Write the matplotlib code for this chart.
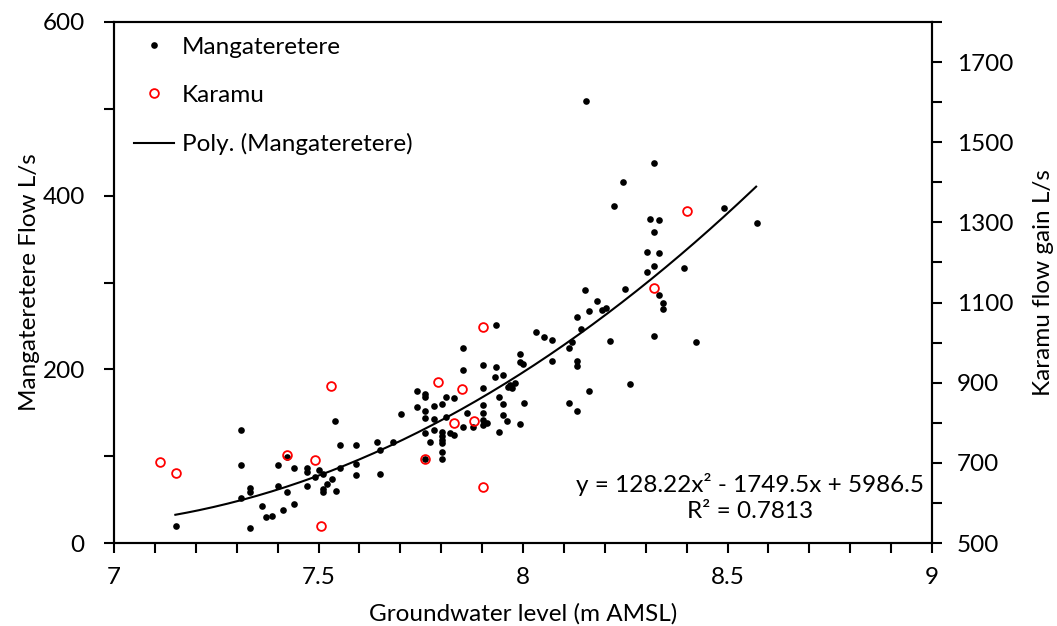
import numpy as np
import matplotlib
matplotlib.use("Agg")
import matplotlib.pyplot as plt
from matplotlib.ticker import MultipleLocator, FixedLocator

# ---------------- data ----------------
mang_x = [8.321, 8.245, 8.222, 8.311, 8.332, 8.321, 8.491, 8.572, 8.302, 8.332,
          8.321, 8.302, 8.394, 8.249, 8.332, 8.342, 8.342, 8.202, 8.192, 8.213,
          8.321, 8.422, 8.155, 8.152, 8.181, 8.161, 8.132, 8.142, 8.031, 8.051,
          8.072, 8.121, 8.112, 8.132, 8.132, 8.072, 7.993, 8.001, 7.993, 8.262,
          8.161, 8.002, 8.112, 8.132, 7.993, 7.933, 7.853, 7.901, 7.933, 7.853,
          7.951, 7.932, 7.901, 7.968, 7.980, 7.972, 7.964, 7.812, 7.832, 7.801,
          7.941, 7.950, 7.901, 7.862, 7.901, 7.950, 7.812, 7.901, 7.901, 7.911,
          7.962, 7.853, 7.878, 7.941, 7.822, 7.832, 7.741, 7.761, 7.761, 7.782,
          7.741, 7.761, 7.702, 7.541, 7.761, 7.782, 7.761, 7.782, 7.801, 7.801,
          7.801, 7.801, 7.801, 7.801, 7.772, 7.643, 7.681, 7.552, 7.591, 7.650,
          7.761, 7.591, 7.552, 7.471, 7.471, 7.502, 7.491, 7.512, 7.471, 7.532,
          7.522, 7.512, 7.512, 7.542, 7.591, 7.650, 7.311, 7.311, 7.423, 7.402,
          7.441, 7.332, 7.332, 7.311, 7.402, 7.422, 7.361, 7.441, 7.412, 7.371,
          7.387, 7.151, 7.332]
mang_flow = [438.0, 416.1, 388.1, 373.2, 372.0, 358.5, 385.8, 368.5, 335.5, 334.3,
             319.4, 312.1, 317.1, 292.5, 285.3, 276.1, 269.8, 270.3, 268.3, 233.0,
             238.7, 231.8, 508.7, 291.4, 278.4, 267.2, 259.9, 246.5, 242.7, 236.9,
             234.1, 231.1, 224.6, 210.0, 203.9, 209.6, 217.3, 206.2, 208.1, 182.8,
             174.7, 161.2, 161.2, 152.4, 137.1, 251.4, 224.2, 205.0, 202.4, 198.9,
             193.8, 191.2, 178.2, 182.0, 183.9, 178.2, 180.0, 168.5, 167.3, 159.7,
             168.5, 159.7, 158.6, 149.4, 149.4, 147.4, 144.8, 141.7, 135.9, 137.9,
             140.9, 133.3, 133.9, 128.2, 126.3, 124.4, 174.7, 171.6, 167.8, 157.4,
             156.3, 151.7, 148.9, 140.5, 144.0, 142.8, 127.0, 130.5, 128.2, 123.6,
             119.0, 114.8, 104.8, 96.7, 116.0, 116.0, 116.0, 112.5, 113.2, 107.5,
             97.1, 91.0, 86.7, 86.7, 82.1, 84.1, 76.4, 79.5, 66.0, 73.4,
             67.6, 61.8, 58.7, 59.9, 78.3, 79.5, 130.5, 90.2, 99.4, 90.2,
             86.4, 63.7, 58.7, 51.8, 65.6, 58.4, 42.6, 44.9, 38.0, 30.3,
             31.4, 19.2, 17.3]

karamu_x = [7.112, 7.151, 7.423, 7.491, 7.505, 7.531, 7.761, 7.793, 7.852, 7.831,
            7.880, 7.901, 7.902, 8.321, 8.401]
karamu_gain = [702.8, 674.7, 719.6, 708.3, 542.4, 890.5, 710.3, 902.4, 883.5, 798.7,
               804.4, 1039.7, 639.7, 1137.0, 1329.1]

# polynomial trendline as printed on the chart
trend_coeffs = [128.22, -1749.5, 5986.5]
trend_x_range = [7.15, 8.57]
trend_label = "y = 128.22x\u00b2 - 1749.5x + 5986.5\nR\u00b2 = 0.7813"

x_tick_labels = [7, 7.5, 8, 8.5, 9]
left_tick_labels = [0, 200, 400, 600]
right_tick_labels = [500, 700, 900, 1100, 1300, 1500, 1700]

# ---------------- style ----------------
FONT = "Lato"
FS = 17.5
plt.rcParams["font.family"] = [FONT, "DejaVu Sans"]
plt.rcParams["font.size"] = FS

fig = plt.figure(figsize=(10.57, 6.26), dpi=100)
ax = fig.add_axes([114 / 1057, 1 - 543 / 626, 818 / 1057, 521 / 626])
ax2 = ax.twinx()

# trendline
tx = np.linspace(trend_x_range[0], trend_x_range[1], 200)
ty = np.polyval(trend_coeffs, tx)
ln_trend, = ax.plot(tx, ty, color="black", lw=1.5, zorder=2)

ln_m, = ax.plot(mang_x, mang_flow, linestyle="none", marker="o", ms=4.8,
                mfc="black", mec="black", mew=0, zorder=3)
ln_k, = ax2.plot(karamu_x, karamu_gain, linestyle="none", marker="o", ms=6.3,
                 mfc="none", mec="#ff0000", mew=1.3, zorder=3)

ax.set_xlim(7, 9)
ax.set_ylim(0, 600)
ax2.set_ylim(500, 1800)

ax.xaxis.set_major_locator(FixedLocator(x_tick_labels))
ax.xaxis.set_minor_locator(MultipleLocator(0.1))
ax.set_xticklabels([f"{v:g}" for v in x_tick_labels])
ax.yaxis.set_major_locator(FixedLocator(left_tick_labels))
ax.yaxis.set_minor_locator(MultipleLocator(100))
ax.set_yticklabels([str(v) for v in left_tick_labels])
ax2.yaxis.set_major_locator(FixedLocator(right_tick_labels))
ax2.yaxis.set_minor_locator(MultipleLocator(100))
ax2.set_yticklabels([str(v) for v in right_tick_labels])

for a in (ax, ax2):
    for s in a.spines.values():
        s.set_linewidth(1.5)
        s.set_color("black")
    a.tick_params(which="both", direction="out", length=7, width=1.5, color="black",
                  labelsize=FS)
ax.tick_params(axis="x", which="both", pad=10, top=False)
ax.tick_params(axis="y", which="both", pad=14, right=False)
ax2.tick_params(axis="y", which="both", pad=11)

ax.set_xlabel("Groundwater level (m AMSL)", fontsize=FS, labelpad=11)
ax.set_ylabel("Mangateretere Flow L/s", fontsize=FS, labelpad=2)
ax2.set_ylabel("Karamu flow gain L/s", fontsize=FS, labelpad=14)

ax.text(0.7775, 0.0873, trend_label, transform=ax.transAxes, ha="center",
        va="center", multialignment="center", fontsize=FS, linespacing=1.3)

leg = ax.legend([ln_m, ln_k, ln_trend],
                ["Mangateretere", "Karamu", "Poly. (Mangateretere)"],
                loc="upper left", bbox_to_anchor=(0.007, 1.0), frameon=False,
                handlelength=1.65, handletextpad=0.3, labelspacing=1.12,
                numpoints=1, fontsize=FS, borderaxespad=0.2)

fig.savefig("out.png", dpi=100)
